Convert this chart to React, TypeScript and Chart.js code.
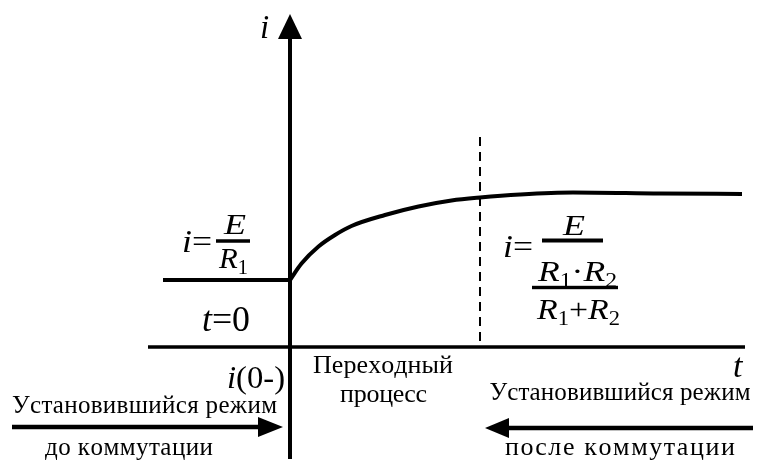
import React, { useEffect, useRef } from 'react';
import { Chart, registerables } from 'chart.js';

Chart.register(...registerables);

// ---- data (t in time units, i in current units) ----
const curveT = [0, 0.23, 0.57, 0.9, 1.23, 1.9, 2.57, 3.23, 3.8, 4.6, 5.66, 7.4, 9.04];
const curveI = [1.34, 1.67, 2.01, 2.24, 2.42, 2.64, 2.81, 2.93, 2.99, 3.05, 3.09, 3.07, 3.06];
const preT = [-2.54, 0];
const preI = [1.34, 1.34];
const tAxisT = [-2.84, 9.1];
const iAxisI = [-2.24, 6.2];
const iAxisTip = 6.66;
const boundaryT = 3.8;
const boundaryTop = 4.2;
const leftArrowT = [-5.56, -0.14];
const leftArrowI = -1.6;
const rightArrowT = [9.26, 3.9];
const rightArrowI = -1.62;

const SERIF = '"Liberation Serif", "Times New Roman", serif';

type Run = { text: string; italic?: boolean; size: number; dy?: number };

function font(size: number, italic?: boolean) {
  return `${italic ? 'italic ' : ''}${size}px ${SERIF}`;
}

// draw a sequence of runs; optionally stretch horizontally to a target width
function drawRuns(
  ctx: CanvasRenderingContext2D,
  x: number,
  y: number,
  runs: Run[],
  align: 'left' | 'center' = 'left',
  target?: number
) {
  let total = 0;
  for (const r of runs) {
    ctx.font = font(r.size, r.italic);
    total += ctx.measureText(r.text).width;
  }
  const sx = target ? target / total : 1;
  const w = total * sx;
  const startX = align === 'center' ? x - w / 2 : x;
  ctx.save();
  ctx.translate(startX, y);
  ctx.scale(sx, 1);
  ctx.textAlign = 'left';
  ctx.textBaseline = 'alphabetic';
  let cx = 0;
  for (const r of runs) {
    ctx.font = font(r.size, r.italic);
    ctx.fillText(r.text, cx, r.dy || 0);
    cx += ctx.measureText(r.text).width;
  }
  ctx.restore();
}

// draw plain text centred, with letter spacing adjusted to a target width
function drawSpaced(ctx: CanvasRenderingContext2D, x: number, y: number, text: string, size: number, target: number) {
  ctx.font = font(size);
  ctx.textAlign = 'left';
  ctx.textBaseline = 'alphabetic';
  const chars = Array.from(text);
  const widths = chars.map((c) => ctx.measureText(c).width);
  const natural = widths.reduce((a, b) => a + b, 0);
  const extra = chars.length > 1 ? (target - natural) / (chars.length - 1) : 0;
  let cx = x - target / 2;
  chars.forEach((c, k) => {
    ctx.fillText(c, cx, y);
    cx += widths[k] + extra;
  });
}

const annotPlugin = {
  id: 'annot',
  afterDatasetsDraw(chart: any) {
    const { ctx, scales } = chart;
    const X = (v: number) => scales.x.getPixelForValue(v);
    const Y = (v: number) => scales.y.getPixelForValue(v);
    ctx.save();
    ctx.fillStyle = '#000';
    ctx.strokeStyle = '#000';

    // arrowhead on i axis
    ctx.beginPath();
    ctx.moveTo(X(0), Y(iAxisTip));
    ctx.lineTo(X(0) - 12, Y(iAxisI[1]) + 2);
    ctx.lineTo(X(0) + 12, Y(iAxisI[1]) + 2);
    ctx.closePath();
    ctx.fill();

    // bottom arrow heads
    const lt = X(leftArrowT[1]);
    const ly = Y(leftArrowI);
    ctx.beginPath();
    ctx.moveTo(lt, ly);
    ctx.lineTo(lt - 25, ly - 10);
    ctx.lineTo(lt - 25, ly + 10);
    ctx.closePath();
    ctx.fill();
    const rt = X(rightArrowT[1]);
    const ry = Y(rightArrowI);
    ctx.beginPath();
    ctx.moveTo(rt, ry);
    ctx.lineTo(rt + 24, ry - 10);
    ctx.lineTo(rt + 24, ry + 10);
    ctx.closePath();
    ctx.fill();

    // fraction bars
    const bar = (t0: number, t1: number, i: number, w: number) => {
      ctx.fillRect(X(t0), Y(i) - w / 2, X(t1) - X(t0), w);
    };
    bar(-1.48, -0.8, 2.12, 3.5);
    bar(5.04, 6.26, 2.13, 4);
    bar(4.84, 6.56, 1.19, 3.4);

    const sub = (s: string): Run => ({ text: s, size: 20, dy: 6 });
    const R = (): Run => ({ text: 'R', italic: true, size: 30 });

    // axis labels
    drawRuns(ctx, X(-0.6), Y(6.18), [{ text: 'i', italic: true, size: 33 }]);
    drawRuns(ctx, X(8.86), Y(-0.6), [{ text: 't', italic: true, size: 34 }]);

    // left formula
    drawRuns(ctx, X(-2.16), Y(1.9), [
      { text: 'i', italic: true, size: 32 },
      { text: '=', size: 32 },
    ], 'left', 30);
    drawRuns(ctx, X(-1.1), Y(2.26), [{ text: 'E', italic: true, size: 29 }], 'center', 22);
    drawRuns(ctx, X(-1.42), Y(1.58), [R(), sub('1')], 'left', 29);

    // t=0 and i(0-)
    drawRuns(ctx, X(-1.76), Y(0.32), [
      { text: 't', italic: true, size: 35 },
      { text: '=0', size: 35 },
    ], 'left', 48);
    drawRuns(ctx, X(-1.26), Y(-0.82), [
      { text: 'i', italic: true, size: 32 },
      { text: '(0-)', size: 32 },
    ], 'left', 58);

    // right formula
    drawRuns(ctx, X(4.26), Y(1.8), [
      { text: 'i', italic: true, size: 32 },
      { text: '=', size: 32 },
    ], 'left', 30);
    drawRuns(ctx, X(5.68), Y(2.24), [{ text: 'E', italic: true, size: 29 }], 'center', 22);
    drawRuns(ctx, X(4.96), Y(1.32), [R(), sub('1'), { text: '·', size: 30 }, R(), sub('2')], 'left', 79);
    drawRuns(ctx, X(4.94), Y(0.56), [R(), sub('1'), { text: '+', size: 30 }, R(), sub('2')], 'left', 83);

    // captions
    drawSpaced(ctx, X(1.86), Y(-0.52), 'Переходный', 26, 140);
    drawSpaced(ctx, X(1.87), Y(-1.1), 'процесс', 26, 87);
    drawSpaced(ctx, X(-2.91), Y(-1.32), 'Установившийся режим', 25, 265);
    drawSpaced(ctx, X(-3.22), Y(-2.16), 'до коммутации', 25, 168);
    drawSpaced(ctx, X(6.6), Y(-1.06), 'Установившийся режим', 25, 261);
    drawSpaced(ctx, X(6.6), Y(-2.16), 'после коммутации', 26, 230);

    ctx.restore();
  },
};

export default function App() {
  const ref = useRef<HTMLCanvasElement | null>(null);
  useEffect(() => {
    document.body.style.margin = '0';
    const canvas = ref.current;
    if (!canvas) return;
    const line = (xs: number[], ys: number[], extra: any = {}) => ({
      data: xs.map((t, k) => ({ x: t, y: ys[k] })),
      borderColor: '#000',
      borderWidth: 4,
      pointRadius: 0,
      fill: false,
      ...extra,
    });
    const chart = new Chart(canvas, {
      type: 'line',
      data: {
        datasets: [
          line(tAxisT, [0, 0], { borderWidth: 3.5, borderCapStyle: 'butt' }),
          line([0, 0], iAxisI, { borderWidth: 4 }),
          line(preT, preI),
          line(curveT, curveI, { cubicInterpolationMode: 'monotone', borderWidth: 4 }),
          line([boundaryT, boundaryT], [boundaryTop, 0], { borderWidth: 2, borderDash: [9, 6] }),
          line(leftArrowT.map((v, k) => (k === 1 ? v - 0.4 : v)), [leftArrowI, leftArrowI], { borderWidth: 4.5 }),
          line(rightArrowT.map((v, k) => (k === 1 ? v + 0.4 : v)), [rightArrowI, rightArrowI], { borderWidth: 4.5 }),
        ] as any,
      },
      options: {
        animation: false,
        responsive: false,
        maintainAspectRatio: false,
        devicePixelRatio: 1,
        layout: { padding: 0 },
        plugins: { legend: { display: false }, tooltip: { enabled: false } },
        events: [],
        scales: {
          x: { type: 'linear', min: -5.8, max: 9.42, display: false },
          y: { type: 'linear', min: -2.28, max: 6.94, display: false },
        },
      } as any,
      plugins: [annotPlugin as any],
    });
    return () => chart.destroy();
  }, []);
  return (
    <div style={{ position: 'absolute', left: 0, top: 0, width: 761, height: 461, background: '#fff' }}>
      <canvas ref={ref} width={761} height={461} style={{ display: 'block' }} />
    </div>
  );
}
